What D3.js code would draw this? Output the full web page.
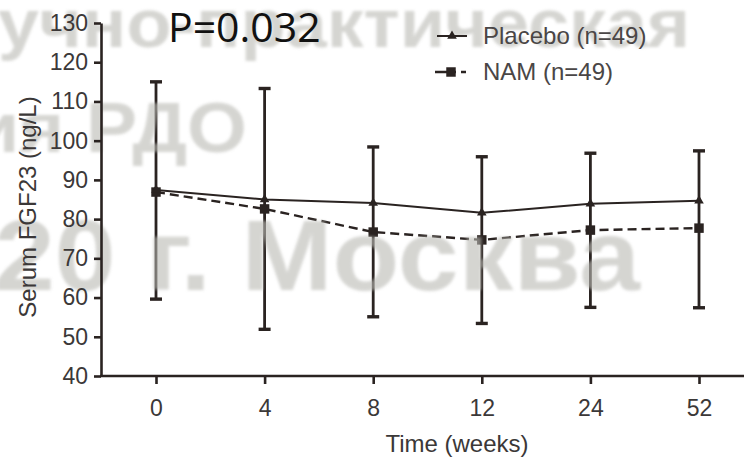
<!DOCTYPE html>
<html>
<head>
<meta charset="utf-8">
<script src="https://cdn.jsdelivr.net/npm/d3@7"></script>
<style>
  body { margin: 0; background: #fff; }
  svg { display: block; }
</style>
</head>
<body>
<div class="chart"></div>
<script>
// Data
var weeks = ["0", "4", "8", "12", "24", "52"];
var placebo = [87.4, 85.0, 84.1, 81.6, 83.9, 84.7];
var nam = [86.9, 82.6, 76.7, 74.7, 77.2, 77.7];
var errTop = [115.0, 113.3, 98.4, 95.9, 96.8, 97.4];
var errBottom = [59.6, 51.9, 55.1, 53.4, 57.5, 57.4];
var yTicks = [40, 50, 60, 70, 80, 90, 100, 110, 120, 130];
var legendLabels = ["Placebo (n=49)", "NAM (n=49)"];
var pLabel = "P=0.032";
var watermark = ["учно-практическая", "ия РДО", "20 г. Москва"];

function init() {
  var w = 744;
  var h = 457;
  var left = 101;
  var bottom = 376;
  var ink = "#2a2321";
  var font = "'Liberation Sans', Arial, Helvetica, sans-serif";

  var rows = weeks.map(function (d, i) {
    return { week: d, placebo: placebo[i], nam: nam[i], hi: errTop[i], lo: errBottom[i] };
  });

  var svg = d3.select(".chart")
    .append("svg")
    .attr("width", w)
    .attr("height", h);

  var xScale = d3.scalePoint()
    .domain(weeks)
    .range([156, 699]);
  var yScale = d3.scaleLinear()
    .domain([40, 130])
    .range([bottom, 23]);

  // error bars
  var bars = svg.append("g");
  bars.selectAll(".eb")
    .data(rows)
    .enter()
    .append("line")
    .attr("x1", function (d) { return xScale(d.week); })
    .attr("x2", function (d) { return xScale(d.week); })
    .attr("y1", function (d) { return yScale(d.hi); })
    .attr("y2", function (d) { return yScale(d.lo); })
    .attr("stroke", ink)
    .attr("stroke-width", 2.8);
  ["hi", "lo"].forEach(function (k) {
    bars.selectAll(".cap-" + k)
      .data(rows)
      .enter()
      .append("line")
      .attr("x1", function (d) { return xScale(d.week) - 6; })
      .attr("x2", function (d) { return xScale(d.week) + 6; })
      .attr("y1", function (d) { return yScale(d[k]); })
      .attr("y2", function (d) { return yScale(d[k]); })
      .attr("stroke", ink)
      .attr("stroke-width", 3.4);
  });

  // lines
  var lineP = d3.line()
    .x(function (d) { return xScale(d.week); })
    .y(function (d) { return yScale(d.placebo); });
  var lineN = d3.line()
    .x(function (d) { return xScale(d.week); })
    .y(function (d) { return yScale(d.nam); });
  svg.append("path")
    .datum(rows)
    .attr("fill", "none")
    .attr("stroke", ink)
    .attr("stroke-width", 2)
    .attr("d", lineP);
  svg.append("path")
    .datum(rows)
    .attr("fill", "none")
    .attr("stroke", ink)
    .attr("stroke-width", 2.4)
    .attr("stroke-dasharray", "9,5")
    .attr("d", lineN);

  var tri = d3.symbol().type(d3.symbolTriangle).size(40);
  var sq = d3.symbol().type(d3.symbolSquare).size(90);
  svg.selectAll(".sq")
    .data(rows)
    .enter()
    .append("path")
    .attr("transform", function (d) { return "translate(" + xScale(d.week) + "," + yScale(d.nam) + ")"; })
    .attr("d", sq)
    .attr("fill", ink);
  svg.selectAll(".tri")
    .data(rows)
    .enter()
    .append("path")
    .attr("transform", function (d) { return "translate(" + xScale(d.week) + "," + yScale(d.placebo) + ")"; })
    .attr("d", tri)
    .attr("fill", ink);

  // watermark, blurred and translucent
  var defs = svg.append("defs");
  defs.append("filter")
    .attr("id", "blur")
    .append("feGaussianBlur")
    .attr("stdDeviation", 1.6);
  var wm = svg.append("g")
    .attr("filter", "url(#blur)")
    .attr("fill", "rgb(186,186,180)")
    .attr("opacity", 0.6)
    .style("font-family", font)
    .style("font-weight", "bold");
  var wmPos = [
    { x: -2, y: 47, size: 68, len: 692 },
    { x: -28, y: 152, size: 70, len: 275 },
    { x: -6, y: 290, size: 100, len: 646 }
  ];
  wm.selectAll("text")
    .data(watermark)
    .enter()
    .append("text")
    .attr("x", function (d, i) { return wmPos[i].x; })
    .attr("y", function (d, i) { return wmPos[i].y; })
    .attr("textLength", function (d, i) { return wmPos[i].len; })
    .attr("lengthAdjust", "spacingAndGlyphs")
    .style("font-size", function (d, i) { return wmPos[i].size + "px"; })
    .text(function (d) { return d; });

  // axes
  var yAxis = d3.axisLeft(yScale)
    .tickValues(yTicks)
    .tickSize(7)
    .tickPadding(6)
    .tickSizeOuter(0);
  var gy = svg.append("g")
    .attr("transform", "translate(" + left + ",0)")
    .call(yAxis);
  var xAxis = d3.axisBottom(xScale)
    .tickSize(8)
    .tickPadding(16)
    .tickSizeOuter(0);
  var gx = svg.append("g")
    .attr("transform", "translate(0," + bottom + ")")
    .call(xAxis);
  gx.select(".domain").remove();
  svg.append("line")
    .attr("x1", left - 1)
    .attr("x2", w)
    .attr("y1", bottom)
    .attr("y2", bottom)
    .attr("stroke", ink)
    .attr("stroke-width", 2.6);
  [gx, gy].forEach(function (g) {
    g.selectAll("path, line").attr("stroke", ink).attr("stroke-width", 2.6);
    g.selectAll("text")
      .attr("fill", "#3b3838")
      .style("font-family", font)
      .style("font-size", "23px");
  });

  // axis titles
  svg.append("text")
    .attr("x", 457)
    .attr("y", 452)
    .attr("text-anchor", "middle")
    .attr("fill", "#3b3838")
    .style("font-family", font)
    .style("font-size", "24px")
    .text("Time (weeks)");
  svg.append("text")
    .attr("transform", "rotate(-90)")
    .attr("x", -207)
    .attr("y", 36)
    .attr("text-anchor", "middle")
    .attr("fill", "#3b3838")
    .style("font-family", font)
    .style("font-size", "24px")
    .text("Serum FGF23 (ng/L)");

  // legend
  var legend = svg.append("g");
  var legY = [36, 72];
  legend.append("line")
    .attr("x1", 437).attr("x2", 467)
    .attr("y1", legY[0]).attr("y2", legY[0])
    .attr("stroke", ink).attr("stroke-width", 2);
  legend.append("path")
    .attr("transform", "translate(452," + legY[0] + ")")
    .attr("d", tri)
    .attr("fill", ink);
  legend.append("line")
    .attr("x1", 435).attr("x2", 466)
    .attr("y1", legY[1]).attr("y2", legY[1])
    .attr("stroke", ink).attr("stroke-width", 2.4)
    .attr("stroke-dasharray", "21,5");
  legend.append("path")
    .attr("transform", "translate(451," + legY[1] + ")")
    .attr("d", sq)
    .attr("fill", ink);
  legend.selectAll(".lt")
    .data(legendLabels)
    .enter()
    .append("text")
    .attr("x", 483)
    .attr("y", function (d, i) { return legY[i] + 8; })
    .attr("fill", "#4a4646")
    .style("font-family", font)
    .style("font-size", "24px")
    .text(function (d) { return d; });

  // p-value
  svg.append("text")
    .attr("x", 168)
    .attr("y", 42)
    .attr("fill", "#111")
    .style("font-family", "'Open Sans', 'Noto Sans', sans-serif")
    .style("font-size", "41px")
    .text(pLabel);
}
window.onload = init;
</script>
</body>
</html>
